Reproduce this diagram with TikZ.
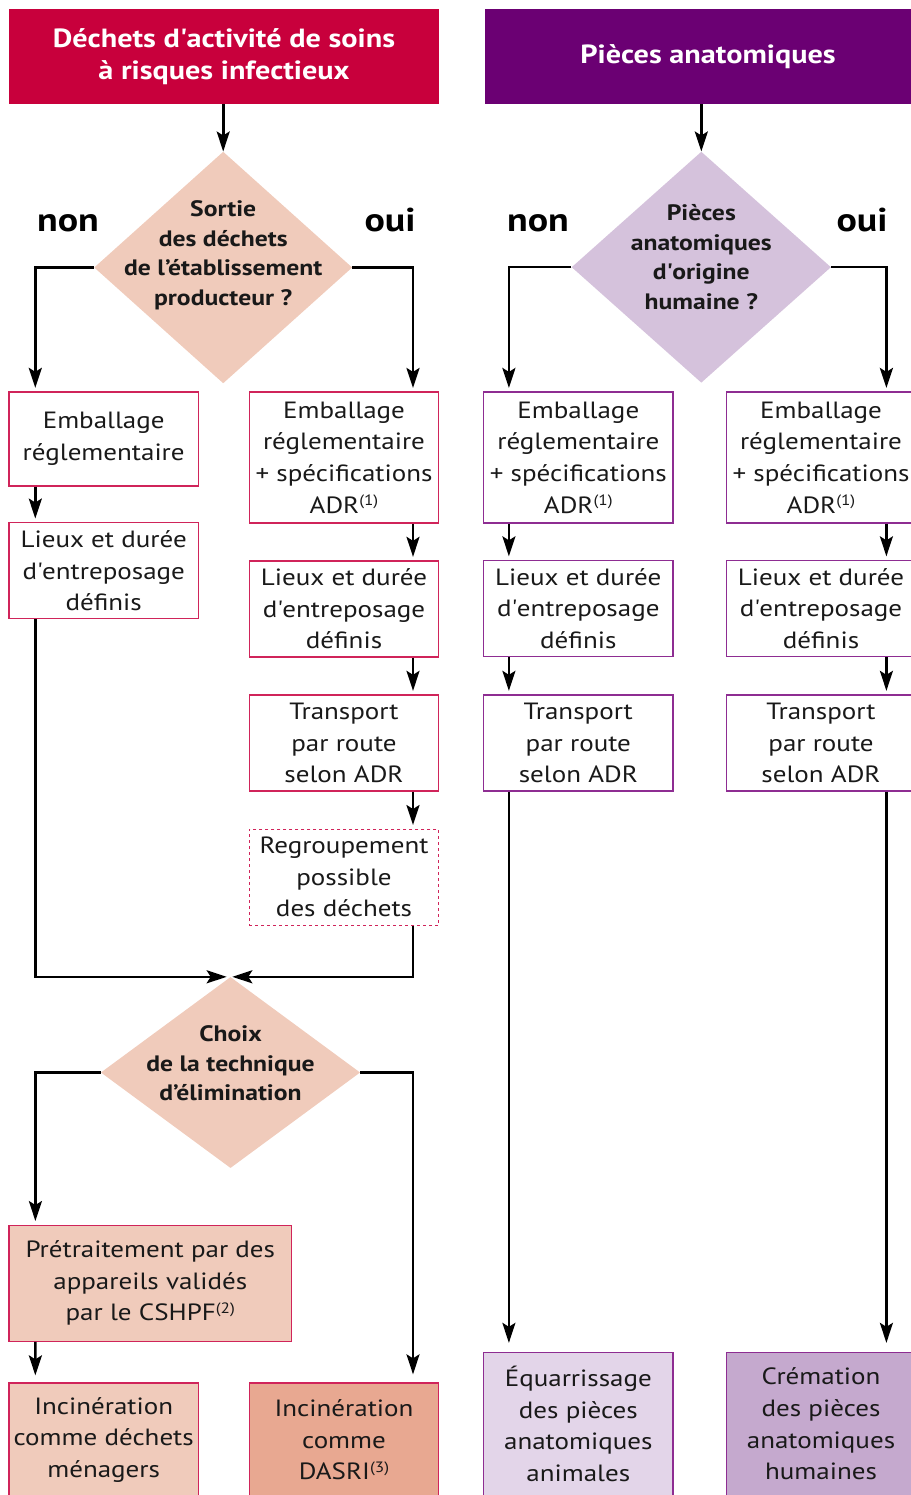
\documentclass[tikz,border=0pt]{standalone}
\usepackage{fontspec}
\setmainfont{PT Sans}[FakeStretch=1.15]
\usetikzlibrary{shapes.geometric,arrows.meta}
\definecolor{hred}{HTML}{C8003C}
\definecolor{hpurple}{HTML}{6B0073}
\definecolor{bred}{HTML}{D0245A}
\definecolor{bpurple}{HTML}{8E2D92}
\definecolor{pinkfill}{HTML}{F0CBBB}
\definecolor{darkpink}{HTML}{E8A891}
\definecolor{lilac}{HTML}{D5C2DC}
\definecolor{lightlilac}{HTML}{E3D5E9}
\definecolor{midlilac}{HTML}{C5A9CE}
\newcommand{\mysup}[1]{\raisebox{7.5pt}{\fontsize{15}{15}\selectfont #1}}
\begin{document}
\begin{tikzpicture}[x=1pt,y=-1pt,
  header/.style={rectangle, inner sep=0pt, text=white, align=center,
    font=\bfseries\fontsize{26.3}{32}\selectfont},
  dia/.style={diamond, draw=none, inner sep=0pt},
  dtext/.style={align=center, font=\bfseries\fontsize{22.3}{29.5}\selectfont, text=black!90},
  yesno/.style={anchor=base, inner sep=0pt, font=\bfseries\fontsize{33}{33}\selectfont},
  boxr/.style={rectangle, draw=bred, line width=1.3pt, inner sep=0pt, align=center,
    minimum width=189.5pt, font=\fontsize{23.5}{31.6}\selectfont, text=black!90},
  boxp/.style={boxr, draw=bpurple},
  arr/.style={line width=2.6pt, -{Stealth[length=20pt,width=13pt,inset=4pt]}},
  gap/.style={shorten >=#1}
]
\useasboundingbox (0,0) rectangle (910,1495);

% headers
\node[header, fill=hred, minimum width=430.6pt, minimum height=95pt] (H1) at (224,56.8)
  {Déchets d\textquotesingle activité de soins\\à risques infectieux};
\node[header, fill=hpurple, minimum width=447pt, minimum height=95pt] (H2) at (708,56.8)
  {Pièces anatomiques};

% decision diamonds
\node[dia, fill=pinkfill, minimum width=258pt, minimum height=231.6pt,
  label={[dtext, yshift=12pt]center:{Sortie\\des déchets\\de l’établissement\\producteur ?}}]
  (d1) at (223.2,267.5) {};
\node[dia, fill=lilac, minimum width=259.3pt, minimum height=231pt,
  label={[dtext, yshift=10pt]center:{Pièces\\anatomiques\\d\textquotesingle origine\\humaine ?}}]
  (d2) at (701.3,267.2) {};
\node[dia, fill=pinkfill, minimum width=259.3pt, minimum height=191pt,
  label={[dtext, yshift=9pt]center:{Choix\\de la technique\\d’élimination}}]
  (d3) at (230.5,1072.5) {};

% non / oui
\node[yesno] (n1) at (68,232) {non};
\node[yesno] (o1) at (390,232) {oui};
\node[yesno] (n2) at (538,232) {non};
\node[yesno] (o2) at (862,232) {oui};

% red column A
\node[boxr, minimum height=94pt] (A1) at (103.7,439) {Emballage\\réglementaire};
\node[boxr, minimum height=96pt] (A2) at (103.7,570.7) {Lieux et durée\\d\textquotesingle entreposage\\définis};
% red column B
\node[boxr, minimum height=131pt] (B1) at (344,457.6) {Emballage\\réglementaire\\+ spécifications\\ADR\mysup{(1)}};
\node[boxr, minimum height=96pt] (B2) at (344,609) {Lieux et durée\\d\textquotesingle entreposage\\définis};
\node[boxr, minimum height=96pt] (B3) at (344,743) {Transport\\par route\\selon ADR};
\node[boxr, dashed, minimum height=96pt] (B4) at (344,877.2) {Regroupement\\possible\\des déchets};

% elimination
\node[boxr, fill=pinkfill, minimum width=282.5pt, minimum height=116pt] (P) at (150.3,1283.2)
  {Prétraitement par des\\appareils validés\\par le CSHPF\mysup{(2)}};
\node[boxr, fill=pinkfill, minimum height=114pt] (I1) at (103.7,1440)
  {Incinération\\comme déchets\\ménagers};
\node[boxr, fill=darkpink, minimum height=114pt] (I2) at (344,1440)
  {Incinération\\comme\\DASRI\mysup{(3)}};

% purple column C
\node[boxp, minimum height=131pt] (C1) at (578.3,457.6) {Emballage\\réglementaire\\+ spécifications\\ADR\mysup{(1)}};
\node[boxp, minimum height=96pt] (C2) at (578.3,608.5) {Lieux et durée\\d\textquotesingle entreposage\\définis};
\node[boxp, minimum height=96pt] (C3) at (578.3,743) {Transport\\par route\\selon ADR};
\node[boxp, fill=lightlilac, minimum height=143pt] (C4) at (578.3,1424)
  {Équarrissage\\des pièces\\anatomiques\\animales};
% purple column D
\node[boxp, minimum height=131pt] (D1) at (821,457.6) {Emballage\\réglementaire\\+ spécifications\\ADR\mysup{(1)}};
\node[boxp, minimum height=96pt] (D2) at (821,608.5) {Lieux et durée\\d\textquotesingle entreposage\\définis};
\node[boxp, minimum height=96pt] (D3) at (821,743) {Transport\\par route\\selon ADR};
\node[boxp, fill=midlilac, minimum height=143pt] (D4) at (821,1424)
  {Crémation\\des pièces\\anatomiques\\humaines};

% connectors, left flow
\draw[arr] (H1.south -| d1.north) -- (d1.north);
\draw[arr, gap=3.5pt] (d1.west) -| ([xshift=27pt]A1.north west);
\draw[arr, gap=3.5pt] (d1.east) -| ([xshift=-26.4pt]B1.north east);
\draw[arr, gap=3.5pt] ([xshift=27pt]A1.south west) -- ([xshift=27pt]A2.north west);
\draw[arr, gap=3.5pt] ([xshift=-26.4pt]B1.south east) -- ([xshift=-26.4pt]B2.north east);
\draw[arr, gap=3.5pt] ([xshift=-26.4pt]B2.south east) -- ([xshift=-26.4pt]B3.north east);
\draw[arr, gap=3.5pt] ([xshift=-26.4pt]B3.south east) -- ([xshift=-26.4pt]B4.north east);
\draw[arr] ([xshift=27pt]A2.south west) |- ([xshift=-3.8pt]d3.north);
\draw[arr] ([xshift=-26.4pt]B4.south east) |- ([xshift=1.8pt]d3.north);
\draw[arr, gap=3.5pt] (d3.west) -| ([xshift=27pt]P.north west);
\draw[arr, gap=8pt] (d3.east) -| ([xshift=-26.4pt]I2.north east);
\draw[arr, gap=7pt] ([xshift=27pt]P.south west) -- ([xshift=27pt]I1.north west);

% connectors, right flow
\draw[arr] (H2.south -| d2.north) -- (d2.north);
\draw[arr, gap=3.5pt] (d2.west) -| ([xshift=26pt]C1.north west);
\draw[arr, gap=3.5pt] (d2.east) -| ([xshift=-30pt]D1.north east);
\draw[arr, gap=3.5pt] ([xshift=26pt]C1.south west) -- ([xshift=26pt]C2.north west);
\draw[arr, gap=3.5pt] ([xshift=-30pt]D1.south east) -- ([xshift=-30pt]D2.north east);
\draw[arr, gap=3.5pt] ([xshift=26pt]C2.south west) -- ([xshift=26pt]C3.north west);
\draw[arr, gap=3.5pt] ([xshift=-30pt]D2.south east) -- ([xshift=-30pt]D3.north east);
\draw[arr, gap=9pt] ([xshift=26pt]C3.south west) -- ([xshift=26pt]C4.north west);
\draw[arr, gap=9pt] ([xshift=-30pt]D3.south east) -- ([xshift=-30pt]D4.north east);
\end{tikzpicture}
\end{document}
